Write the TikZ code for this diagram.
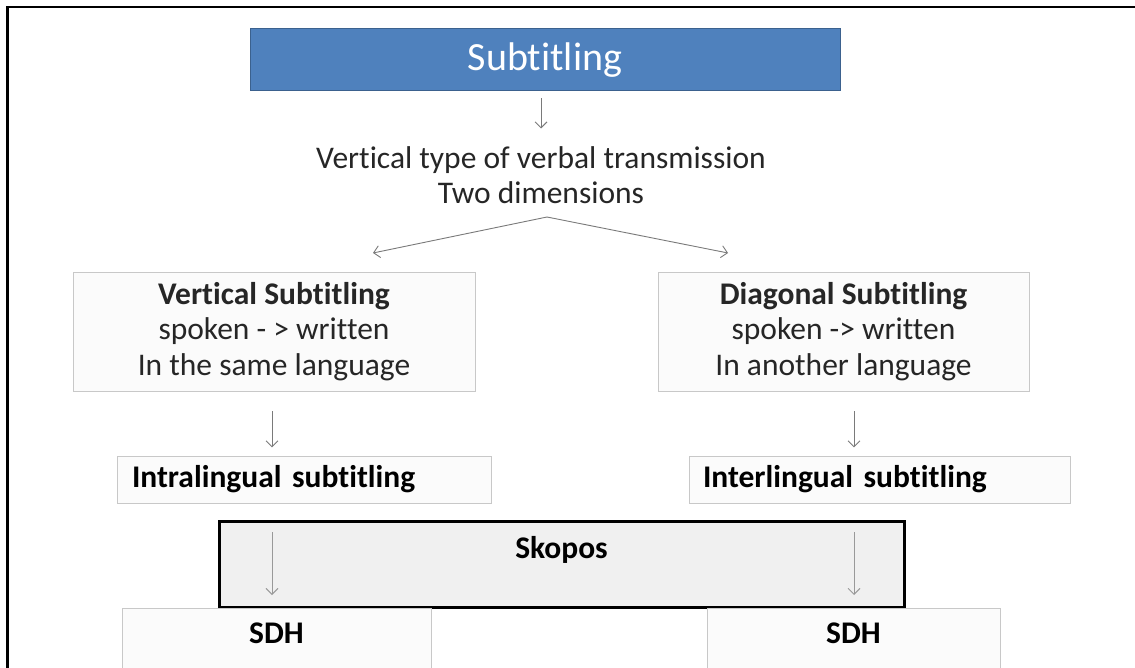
\documentclass[tikz,border=0pt]{standalone}
\usepackage{fontspec}
\setmainfont{Carlito}[Ligatures=TeX, RawFeature={-liga;-clig;-dlig;-calt}]
\usetikzlibrary{arrows.meta}

\definecolor{titleblue}{HTML}{4F81BD}
\definecolor{boxgray}{HTML}{C8C8C8}
\definecolor{boxfill}{HTML}{FBFBFB}
\definecolor{arrowgray}{HTML}{7A7A7A}
\definecolor{textgray}{HTML}{262626}

\tikzset{
  body/.style={font=\fontsize{31.5}{35.5}\selectfont},
  bodybf/.style={font=\fontsize{31.5}{35.5}\selectfont\bfseries},
  box/.style={draw=boxgray, fill=boxfill, line width=0.8pt, inner sep=0pt, align=center, text=textgray},
  titlebox/.style={draw=titleblue!75!black, fill=titleblue, line width=1pt, text=white,
    font=\fontsize{40}{46}\selectfont, minimum width=590, minimum height=62},
  skoposbox/.style={draw=black, fill=black!6, line width=3pt},
  arr/.style={draw=arrowgray, line width=0.9pt, -{Straight Barb[length=6pt,width=12pt]}},
  lightarr/.style={arr, draw=black!40},
}

\begin{document}
\begin{tikzpicture}[x=1pt, y=-1pt]

    % Page and frame
    \clip (0,0) rectangle (1135,668);
    \draw[line width=2.5pt] (7.7,672) -- (7.7,7) -- (1140,7);

    % Top box
    \node[titlebox] (title) at (545,60) {Subtitling};
    \node[body, align=center, text=textgray] (dims) at (541,175)
        {Vertical type of verbal transmission\\Two dimensions};
    \draw[arr] ([xshift=-4pt,yshift=-7pt]title.south) -- ([xshift=-4pt,yshift=-37pt]title.south);

    % The two dimensions
    \coordinate (fork) at (547,217);
    \coordinate (vtip) at (373,253);
    \coordinate (dtip) at (728,253);
    \draw[arr] (fork) -- (vtip);
    \draw[arr] (fork) -- (dtip);

    \node[box, body, minimum width=402, minimum height=119] (vsub) at (274,331.5)
        {\textbf{Vertical Subtitling}\\spoken - > written\\In the same language};
    \node[box, body, minimum width=371, minimum height=119] (dsub) at (843.5,331.5)
        {\textbf{Diagonal Subtitling}\\spoken -> written\\In another language};

    % Subtitling types
    \draw[arr] ([xshift=-2pt,yshift=-20pt]vsub.south) -- ([xshift=-2pt,yshift=-56pt]vsub.south);
    \draw[arr] ([xshift=10.5pt,yshift=-20pt]dsub.south) -- ([xshift=10.5pt,yshift=-56pt]dsub.south);

    \node[box, bodybf, text=black, text width=344, align=left, inner xsep=15, minimum height=47] (intra)
        at (304,479.5) {Intralingual subtitling};
    \node[box, bodybf, text=black, text width=353, align=left, inner xsep=14, minimum height=47] (inter)
        at (879.5,479.5) {Interlingual subtitling};

    % Skopos
    \node[skoposbox, minimum width=685, minimum height=86,
          label={[bodybf, anchor=north, inner sep=0pt, yshift=-17pt]north:Skopos}] (skopos)
        at (561.5,564) {};
    \coordinate (lin) at (272,532);
    \coordinate (lout) at (272,595);
    \coordinate (rin) at (854,532);
    \coordinate (rout) at (854,595);
    \draw[lightarr] (lin) -- (lout);
    \draw[lightarr] (rin) -- (rout);

    % SDH
    \node[box, minimum width=309, minimum height=100,
          label={[bodybf, text=black, anchor=north, inner sep=0pt, yshift=-15pt]north:SDH}] (sdhl)
        at (276.5,658) {};
    \node[box, minimum width=293, minimum height=100,
          label={[bodybf, text=black, anchor=north, inner sep=0pt, yshift=-15pt]north:SDH}] (sdhr)
        at (853.5,658) {};

\end{tikzpicture}
\end{document}
